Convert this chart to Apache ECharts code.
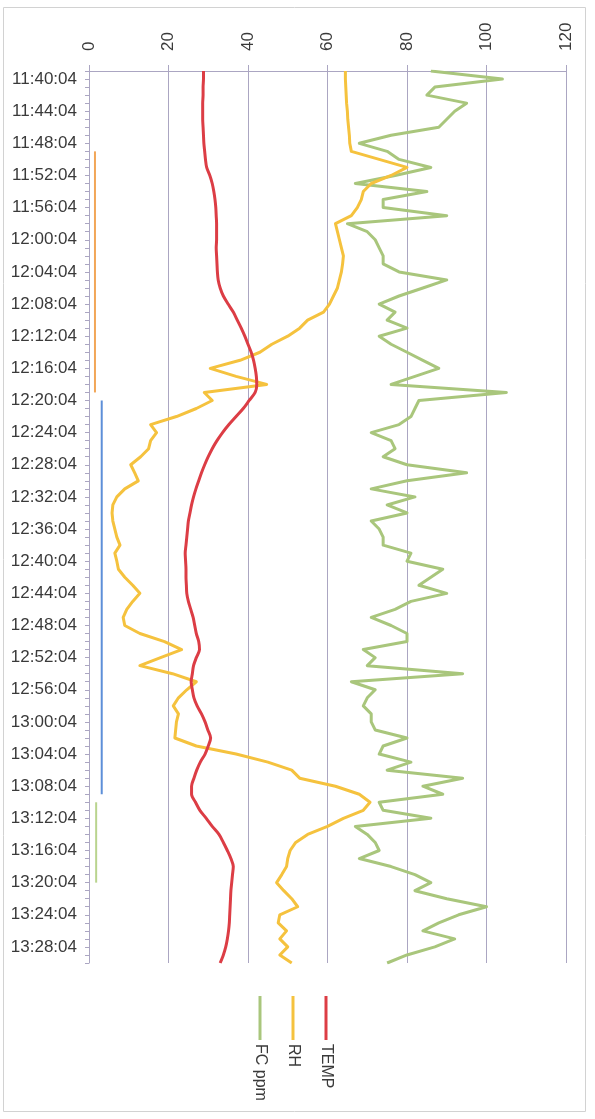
<!DOCTYPE html>
<html>
<head>
<meta charset="utf-8">
<script src="https://cdn.jsdelivr.net/npm/echarts@6/dist/echarts.min.js"></script>
<style>
  html, body { margin: 0; padding: 0; background: #ffffff; }
  #chart { width: 595px; height: 1119px; }
</style>
</head>
<body>
<div id="chart"></div>
<script>
// Sample times, one per minute
const times = [
  '11:39:04','11:40:04','11:41:04','11:42:04','11:43:04','11:44:04','11:45:04','11:46:04','11:47:04','11:48:04',
  '11:49:04','11:50:04','11:51:04','11:52:04','11:53:04','11:54:04','11:55:04','11:56:04','11:57:04','11:58:04',
  '11:59:04','12:00:04','12:01:04','12:02:04','12:03:04','12:04:04','12:05:04','12:06:04','12:07:04','12:08:04',
  '12:09:04','12:10:04','12:11:04','12:12:04','12:13:04','12:14:04','12:15:04','12:16:04','12:17:04','12:18:04',
  '12:19:04','12:20:04','12:21:04','12:22:04','12:23:04','12:24:04','12:25:04','12:26:04','12:27:04','12:28:04',
  '12:29:04','12:30:04','12:31:04','12:32:04','12:33:04','12:34:04','12:35:04','12:36:04','12:37:04','12:38:04',
  '12:39:04','12:40:04','12:41:04','12:42:04','12:43:04','12:44:04','12:45:04','12:46:04','12:47:04','12:48:04',
  '12:49:04','12:50:04','12:51:04','12:52:04','12:53:04','12:54:04','12:55:04','12:56:04','12:57:04','12:58:04',
  '12:59:04','13:00:04','13:01:04','13:02:04','13:03:04','13:04:04','13:05:04','13:06:04','13:07:04','13:08:04',
  '13:09:04','13:10:04','13:11:04','13:12:04','13:13:04','13:14:04','13:15:04','13:16:04','13:17:04','13:18:04',
  '13:19:04','13:20:04','13:21:04','13:22:04','13:23:04','13:24:04','13:25:04','13:26:04','13:27:04','13:28:04',
  '13:29:04','13:30:04'
];

// Temperature
const temp = [
  28.8,28.8,28.7,28.7,28.6,28.6,28.6,28.7,28.8,28.9,
  29.1,29.3,29.6,30.4,31.0,31.4,31.7,31.9,32.0,32.1,
  32.1,32.1,32.0,32.1,32.2,32.3,32.5,33.0,33.8,35.0,
  36.3,37.3,38.3,39.2,40.0,40.8,41.4,41.8,42.1,42.2,
  41.8,40.3,38.8,37.0,35.2,33.6,32.2,31.0,30.0,29.1,
  28.3,27.6,26.9,26.3,25.8,25.4,25.0,24.8,24.6,24.4,
  24.2,24.3,24.4,24.4,24.5,24.6,25.0,25.6,26.2,26.6,
  27.0,27.6,27.8,27.0,26.3,26.0,25.7,26.0,26.4,27.2,
  28.3,29.2,29.9,30.6,30.0,29.2,28.0,27.1,26.4,25.8,
  25.8,26.8,27.9,29.5,31.0,32.7,33.8,34.8,35.7,36.3,
  36.1,35.9,35.7,35.6,35.5,35.4,35.3,35.1,34.8,34.4,
  33.8,33.0
];

// Relative humidity
const rh = [
  64.5,64.5,64.6,64.7,64.8,65.0,65.1,65.3,65.5,65.6,
  66.0,73.0,80.0,76.0,71.0,69.0,68.5,67.5,66.0,62.0,
  62.5,63.0,63.5,64.0,63.8,63.5,63.0,62.5,61.5,60.5,
  59.0,55.0,53.0,50.0,46.0,43.0,38.0,30.5,37.0,44.7,
  29.0,31.0,27.0,22.0,15.5,17.0,15.5,15.0,13.0,10.5,
  11.5,12.4,9.0,7.0,6.0,5.8,6.0,6.5,7.0,7.8,
  6.5,7.0,7.4,9.0,11.0,12.8,11.0,9.5,8.6,9.0,
  12.8,19.0,23.3,18.0,12.8,21.0,27.0,24.6,22.5,21.2,
  22.5,22.0,21.8,21.6,27.0,37.0,45.0,51.0,53.0,62.0,
  68.0,70.7,69.0,64.0,60.0,55.0,52.0,50.6,50.0,49.7,
  48.5,47.2,49.0,51.0,52.5,48.0,47.6,49.7,48.0,50.0,
  48.0,51.0
];

// FC ppm
const fc = [
  86,104,87,85,95,92,90,88,76,68,
  75,78,86,77,67,85,74,74,90,65,
  70,72,73,74,74,78,90,84,78,73,
  77,75,80,73,76,80,84,88,82,76,
  105,83,82,81,78,71,76,77,74,80,
  95,80,71,82,75,80,71,73,74,74,
  81,80,89,86,83,90,81,77,71,76,
  80,80,69,72,70,94,66,72,70,69,
  71,71,72,80,74,73,81,75,94,84,
  89,73,74,86,67,70,72,73,68,76,
  82,86,82,90,100,93,88,84,92,87,
  80,75
];

// Process phase markers drawn next to the time axis: [value, time]
const phaseA = [[1.5, '11:49:04'], [1.5, '12:19:04']];
const phaseB = [[3.2, '12:20:04'], [3.2, '13:09:04']];
const phaseC = [[1.8, '13:10:04'], [1.8, '13:20:04']];

const valueTicks = [0, 20, 40, 60, 80, 100, 120];

const colors = { temp: '#dc3d45', rh: '#f5c23e', fc: '#a9c67c' };
const gridColor = '#aba6c2';
const labelFont = 'Liberation Sans, Arial, sans-serif';

const chart = echarts.init(document.getElementById('chart'), null, { renderer: 'canvas' });

function lineSeries(name, data, color, smooth) {
  return {
    name: name, type: 'line', data: data, symbol: 'none', smooth: smooth || false,
    lineStyle: { color: color, width: 3, join: 'round' }, itemStyle: { color: color },
    z: 3
  };
}
function phaseSeries(name, data, color) {
  return {
    name: name, type: 'line', data: data, symbol: 'none',
    lineStyle: { color: color, width: 2 }, itemStyle: { color: color }, z: 2
  };
}

// Rotated legend entries beneath the plot
const legendItems = [
  { name: 'TEMP', color: colors.temp, x: 326 },
  { name: 'RH', color: colors.rh, x: 293 },
  { name: 'FC ppm', color: colors.fc, x: 260 }
];
const legendGraphics = [];
legendItems.forEach(function (it) {
  legendGraphics.push({
    type: 'line', shape: { x1: it.x, y1: 996, x2: it.x, y2: 1040 },
    style: { stroke: it.color, lineWidth: 3 }
  });
  legendGraphics.push({
    type: 'text', x: it.x, y: 1044, rotation: -Math.PI / 2,
    style: { text: it.name, fill: '#3a3a3a', font: '16px ' + labelFont,
             textAlign: 'left', textVerticalAlign: 'middle' }
  });
});

chart.setOption({
  animation: false,
  backgroundColor: '#ffffff',
  grid: { left: 89, right: 29, top: 71, bottom: 156, containLabel: false },
  xAxis: {
    type: 'value', position: 'top', min: valueTicks[0], max: valueTicks[valueTicks.length - 1],
    interval: valueTicks[1] - valueTicks[0],
    axisLine: { show: true, lineStyle: { color: gridColor, width: 1 } },
    axisTick: { show: true, length: 6, lineStyle: { color: gridColor } },
    splitLine: { show: true, lineStyle: { color: gridColor, width: 1 } },
    axisLabel: { rotate: -90, margin: 20, fontSize: 17, color: '#3a3a3a', fontFamily: labelFont }
  },
  yAxis: {
    type: 'category', inverse: true, boundaryGap: false, data: times,
    axisLine: { show: true, lineStyle: { color: gridColor, width: 1 } },
    axisTick: { show: true, length: 4, interval: 0, lineStyle: { color: gridColor } },
    splitLine: { show: false },
    axisLabel: {
      interval: function (idx) { return (idx - 1) % 4 === 0; },
      margin: 12, fontSize: 17, color: '#3a3a3a', fontFamily: labelFont
    }
  },
  legend: { show: false },
  series: [
    phaseSeries('Phase A', phaseA, '#f2a657'),
    phaseSeries('Phase B', phaseB, '#5d8fd8'),
    phaseSeries('Phase C', phaseC, '#b9d48e'),
    lineSeries('FC ppm', fc, colors.fc),
    lineSeries('RH', rh, colors.rh),
    lineSeries('TEMP', temp, colors.temp, 0.3)
  ],
  graphic: [
    { type: 'rect', shape: { x: 3.5, y: 7.5, width: 582, height: 1104 },
      style: { fill: 'none', stroke: '#d2d2d2', lineWidth: 1 }, z: -1 }
  ].concat(legendGraphics)
});
</script>
</body>
</html>
